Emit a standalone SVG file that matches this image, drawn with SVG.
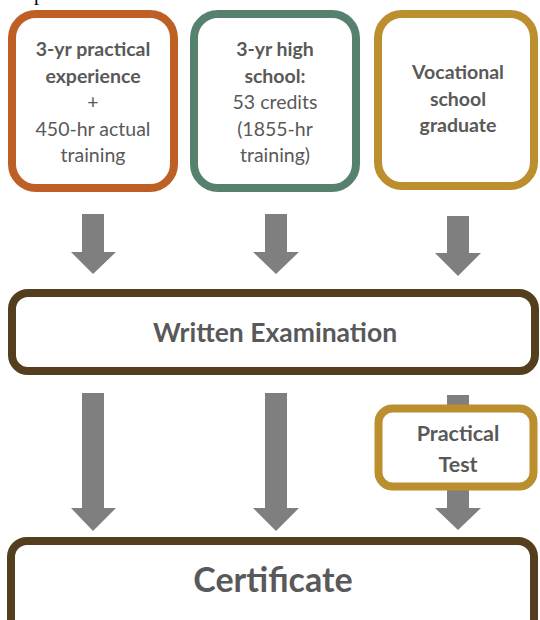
<svg xmlns="http://www.w3.org/2000/svg" width="540" height="620" viewBox="0 0 540 620">
<style>
.box{fill:#ffffff;stroke-width:8}
.t{font-family:Lato,"Liberation Sans",sans-serif;fill:#595959;text-anchor:middle;font-size:19.5px}
.b{font-weight:bold}
.arr{fill:#7f7f7f}
</style>
<rect width="540" height="620" fill="#ffffff"/>
<text x="34" y="0" font-family="'Liberation Serif',serif" font-size="20" fill="#000">p</text>
<g id="connectors">
<path class="arr" d="M82,214 H104 V252 H116 L93,274 L71,252 H82 Z"/>
<path class="arr" d="M265,214 H287 V252 H299 L276,274 L253,252 H265 Z"/>
<path class="arr" d="M447,216 H469 V253 H481 L458,276 L435,253 H447 Z"/>
<path class="arr" d="M82,393 H104 V508 H116 L93,531 L71,508 H82 Z"/>
<path class="arr" d="M265,393 H287 V508 H299 L276,531 L253,508 H265 Z"/>
<path class="arr" d="M447,395 H469 V508 H481 L458,530 L435,508 H447 Z"/>
</g>
<g id="node-practical-experience">
<rect class="box" x="12" y="14" width="162" height="174" rx="24" stroke="#BE5F25"/>
<text class="t b" x="93" y="56">3-yr practical</text>
<text class="t b" x="93" y="82.5">experience</text>
<text class="t" x="93" y="109">+</text>
<text class="t" x="93" y="135.5">450-hr actual</text>
<text class="t" x="93" y="162">training</text>
</g>
<g id="node-high-school">
<rect class="box" x="194" y="14" width="162" height="174" rx="24" stroke="#56816F"/>
<text class="t b" x="275" y="56">3-yr high</text>
<text class="t b" x="275" y="82.5">school:</text>
<text class="t" x="275" y="109">53 credits</text>
<text class="t" x="275" y="135.5">(1855-hr</text>
<text class="t" x="275" y="162">training)</text>
</g>
<g id="node-vocational">
<rect class="box" x="378" y="14" width="156" height="172" rx="24" stroke="#BB8E2E"/>
<text class="t b" x="458" y="79">Vocational</text>
<text class="t b" x="458" y="105.5">school</text>
<text class="t b" x="458" y="132">graduate</text>
</g>
<g id="node-written-exam">
<rect class="box" x="12" y="293" width="523" height="78" rx="16" stroke="#533F1D"/>
<text class="t b" x="275" y="342" style="font-size:26.5px">Written Examination</text>
</g>
<g id="node-practical-test">
<rect class="box" x="378.5" y="408.5" width="155" height="78" rx="14" stroke="#BB8E2E" stroke-width="7"/>
<text class="t b" x="458" y="441" style="font-size:21.5px">Practical</text>
<text class="t b" x="458" y="472" style="font-size:21.5px">Test</text>
</g>
<g id="node-certificate">
<rect class="box" x="11" y="541" width="523" height="95" rx="16" stroke="#533F1D"/>
<text class="t b" x="273" y="592" style="font-size:34px">Certificate</text>
</g>
</svg>
